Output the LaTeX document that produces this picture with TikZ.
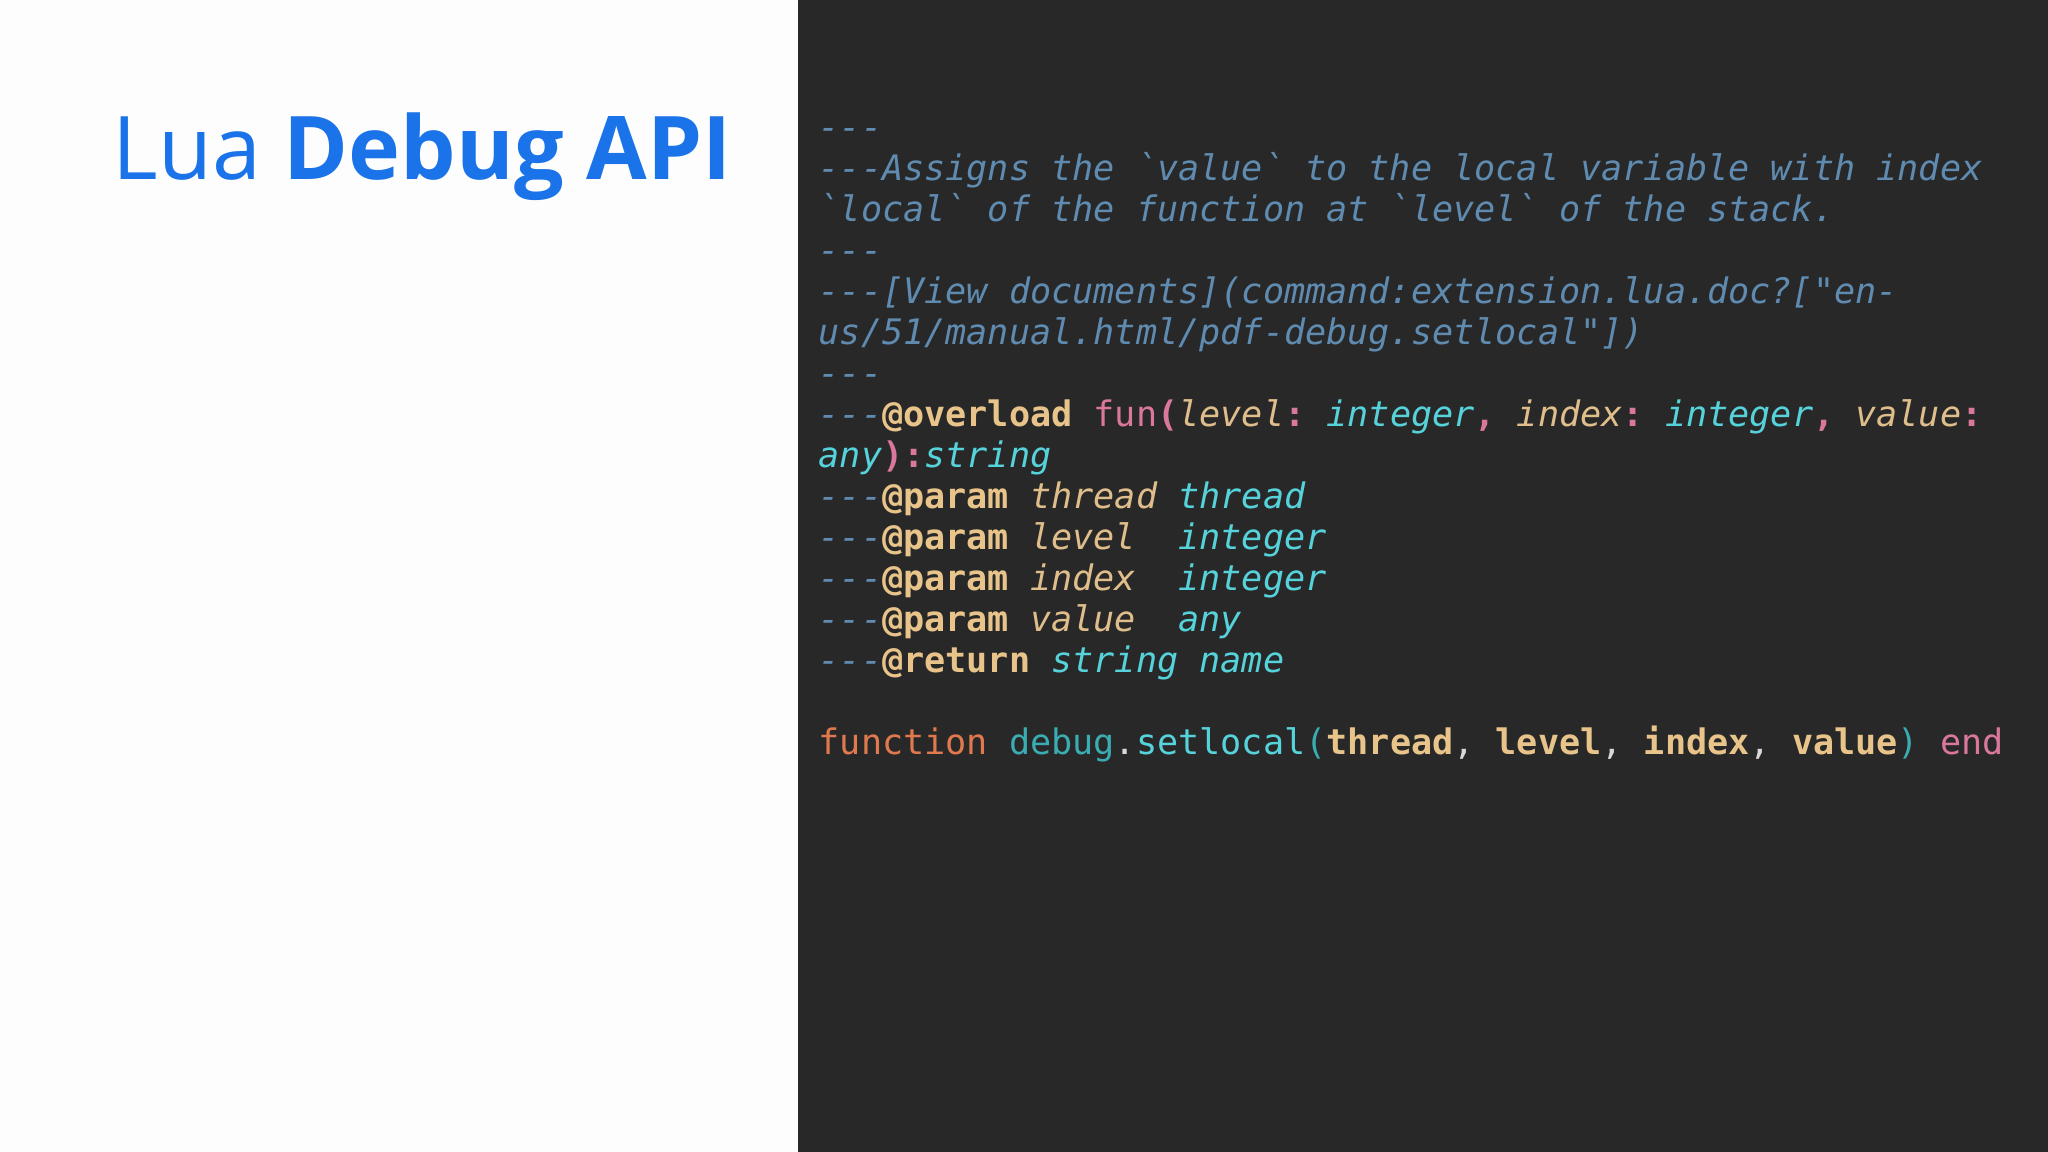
\documentclass[tikz,border=0pt]{standalone}
\usepackage{fontspec}
\setmainfont{Open Sans}
\setmonofont{DejaVu Sans Mono}
\definecolor{bgl}{HTML}{FDFDFD}
\definecolor{panel}{HTML}{282828}
\definecolor{ttl}{HTML}{1A73E8}
\definecolor{cmt}{HTML}{5F8BB0}
\definecolor{tag}{HTML}{E8C48A}
\definecolor{kw}{HTML}{D9789C}
\definecolor{par}{HTML}{E0BE8C}
\definecolor{typ}{HTML}{56D2DA}
\definecolor{fn}{HTML}{E07A4E}
\definecolor{dbg}{HTML}{3AADB2}
\definecolor{plain}{HTML}{D8D8D8}
\newcommand{\C}[1]{\textcolor{cmt}{\itshape #1}}
\newcommand{\T}[1]{\textcolor{tag}{\bfseries #1}}
\newcommand{\K}[1]{\textcolor{kw}{#1}}
\newcommand{\KB}[1]{\textcolor{kw}{\bfseries #1}}
\newcommand{\Pp}[1]{\textcolor{par}{\itshape #1}}
\newcommand{\Ty}[1]{\textcolor{typ}{\itshape #1}}
\begin{document}
\begin{tikzpicture}[x=1cm,y=1cm,
  code/.style={anchor=base west,inner sep=0,font=\ttfamily\fontsize{10}{12}\selectfont}]
\fill[bgl] (0,0) rectangle (20.48,11.52);
\fill[panel] (7.98,0) rectangle (20.48,11.52);
\node[anchor=base west,inner sep=0,text=ttl,font=\fontsize{25}{30}\selectfont] (title) at (1.12,9.72) {Lua \textbf{Debug API}};
\def\ly#1{11.52-1.40-#1*0.41}
\node[code] (l0) at (8.18,{\ly{0}}) {\C{---}};
\node[code] (l1) at (8.18,{\ly{1}}) {\C{---Assigns the `value` to the local variable with index}};
\node[code] (l2) at (8.18,{\ly{2}}) {\C{`local` of the function at `level` of the stack.}};
\node[code] (l3) at (8.18,{\ly{3}}) {\C{---}};
\node[code] (l4) at (8.18,{\ly{4}}) {\C{---[View documents](command:extension.lua.doc?["en-}};
\node[code] (l5) at (8.18,{\ly{5}}) {\C{us/51/manual.html/pdf-debug.setlocal"])}};
\node[code] (l6) at (8.18,{\ly{6}}) {\C{---}};
\node[code] (l7) at (8.18,{\ly{7}}) {\C{---}\T{@overload} \K{fun}\KB{(}\Pp{level}\KB{:} \Ty{integer}\KB{,} \Pp{index}\KB{:} \Ty{integer}\KB{,} \Pp{value}\KB{:}};
\node[code] (l8) at (8.18,{\ly{8}}) {\Ty{any}\KB{):}\Ty{string}};
\node[code] (l9) at (8.18,{\ly{9}}) {\C{---}\T{@param} \Pp{thread} \Ty{thread}};
\node[code] (l10) at (8.18,{\ly{10}}) {\C{---}\T{@param} \Pp{level}\ \ \Ty{integer}};
\node[code] (l11) at (8.18,{\ly{11}}) {\C{---}\T{@param} \Pp{index}\ \ \Ty{integer}};
\node[code] (l12) at (8.18,{\ly{12}}) {\C{---}\T{@param} \Pp{value}\ \ \Ty{any}};
\node[code] (l13) at (8.18,{\ly{13}}) {\C{---}\T{@return} \Ty{string name}};
\node[code] (l15) at (8.18,{\ly{15}}) {\textcolor{fn}{function} \textcolor{dbg}{debug}\textcolor{plain}{.}\textcolor{typ}{setlocal}\textcolor{dbg}{(}\T{thread}\textcolor{plain}{,} \T{level}\textcolor{plain}{,} \T{index}\textcolor{plain}{,} \T{value}\textcolor{dbg}{)} \K{end}};
\end{tikzpicture}
\end{document}
